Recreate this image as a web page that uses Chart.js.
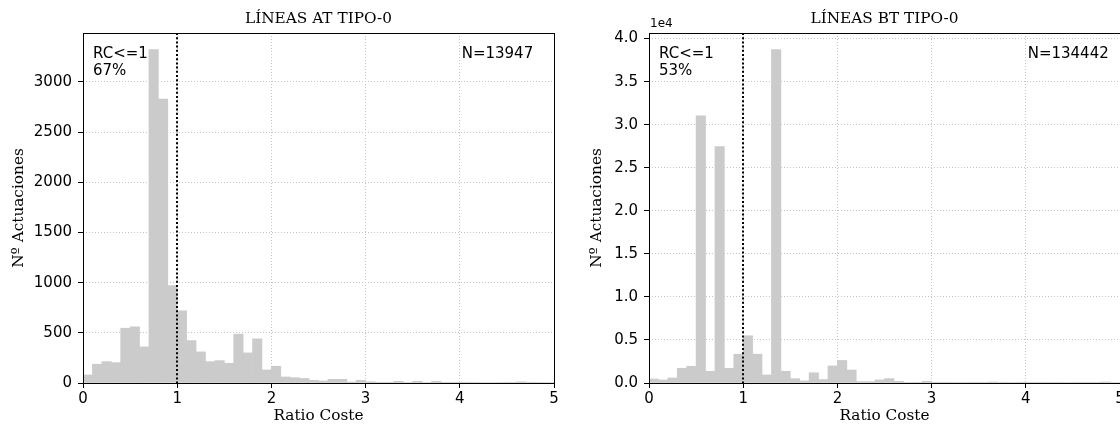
<!DOCTYPE html>
<html lang="es">
<head>
  <meta charset="UTF-8">
  <title>Ratio Coste - Líneas tipo 0</title>
  <script src="https://cdn.jsdelivr.net/npm/chart.js"></script>
  <style>
    body {
      margin: 0;
      width: 1120px;
      height: 425px;
      overflow: hidden;
      background: #ffffff;
      position: relative;
    }
    .panel { position: absolute; top: 0; }
    #left { left: 0; }
    #right { left: 566px; }
  </style>
</head>
<body>
  <div class="panel" id="left"><canvas id="chartAT" width="561" height="425"></canvas></div>
  <div class="panel" id="right"><canvas id="chartBT" width="561" height="425"></canvas></div>

  <script>
    // Bin centres: histogram bins of width 0.1 from 0 to 5
    const binCenters = [0.05, 0.15, 0.25, 0.35, 0.45, 0.55, 0.65, 0.75, 0.85, 0.95,
                        1.05, 1.15, 1.25, 1.35, 1.45, 1.55, 1.65, 1.75, 1.85, 1.95,
                        2.05, 2.15, 2.25, 2.35, 2.45, 2.55, 2.65, 2.75, 2.85, 2.95,
                        3.05, 3.15, 3.25, 3.35, 3.45, 3.55, 3.65, 3.75, 3.85, 3.95,
                        4.05, 4.15, 4.25, 4.35, 4.45, 4.55, 4.65, 4.75, 4.85, 4.95];

    // Líneas AT tipo-0 (counts per bin)
    const atCounts = [80, 187, 213, 203, 546, 560, 360, 3322, 2830, 970,
                      720, 423, 310, 213, 223, 197, 487, 300, 440, 130,
                      167, 60, 53, 45, 27, 20, 37, 37, 10, 27,
                      13, 7, 3, 17, 5, 17, 5, 17, 3, 3,
                      7, 7, 5, 5, 7, 3, 12, 3, 3, 5];

    // Líneas BT tipo-0 (counts per bin)
    const btCounts = [467, 350, 583, 1711, 1945, 31042, 1361, 27463, 1711, 3345,
                      5485, 3345, 934, 38714, 1361, 506, 240, 1190, 400, 1985,
                      2620, 1508, 160, 160, 357, 516, 200, 80, 80, 200,
                      20, 20, 20, 20, 20, 20, 120, 20, 20, 20,
                      20, 20, 20, 20, 20, 20, 20, 20, 120, 60];

    // axis ticks
    const xTicks = [0, 1, 2, 3, 4, 5];
    const atYTicks = [0, 500, 1000, 1500, 2000, 2500, 3000];
    const btYTicks = [0, 5000, 10000, 15000, 20000, 25000, 30000, 35000, 40000];

    const atLabels = ['RC<=1', '67%', 'N=13947'];
    const btLabels = ['RC<=1', '53%', 'N=134442'];
    const rcLimit = 1;

    Chart.defaults.font.family = '"DejaVu Sans", sans-serif';
    Chart.defaults.font.size = 15;
    Chart.defaults.color = '#000000';

    // dotted RC line, frame and text notes
    const extrasPlugin = {
      id: 'extras',
      afterDatasetsDraw(chart, args, opts) {
        const { ctx, chartArea: a, scales: { x } } = chart;
        ctx.save();
        const px = Math.round(x.getPixelForValue(opts.limit));
        ctx.strokeStyle = '#000000';
        ctx.lineWidth = 2;
        ctx.setLineDash([2, 2.2]);
        ctx.beginPath();
        ctx.moveTo(px, a.top);
        ctx.lineTo(px, a.bottom);
        ctx.stroke();
        ctx.setLineDash([]);

        ctx.lineWidth = 1;
        const l = Math.round(a.left) + 0.5, r = Math.round(a.right) + 0.5;
        const t = Math.round(a.top) + 0.5, b = Math.round(a.bottom) + 0.5;
        ctx.strokeRect(l, t, r - l, b - t);

        ctx.fillStyle = '#000000';
        ctx.font = '15px "DejaVu Sans"';
        ctx.textBaseline = 'middle';
        ctx.textAlign = 'left';
        ctx.fillText(opts.lines[0], a.left + 10, a.top + 21);
        ctx.fillText(opts.lines[1], a.left + 10, a.top + 38);
        ctx.fillText(opts.lines[2], x.getPixelForValue(opts.nAt), a.top + 21);
        if (opts.offsetText) {
          ctx.font = '12px "DejaVu Sans"';
          ctx.fillText(opts.offsetText, a.left + 1, a.top - 9);
        }
        ctx.restore();
      }
    };

    function makeConfig(counts, title, yMax, yTicks, yFormat, notes, yTitlePad) {
      return {
        type: 'bar',
        data: {
          datasets: [{
            data: binCenters.map((c, i) => ({ x: c, y: counts[i] })),
            backgroundColor: '#cbcbcb',
            borderWidth: 0,
            barPercentage: 1,
            categoryPercentage: 1
          }]
        },
        options: {
          responsive: false,
          animation: false,
          layout: { padding: { left: 0, right: 7, top: 0, bottom: 0 } },
          plugins: {
            legend: { display: false },
            tooltip: { enabled: false },
            title: {
              display: true,
              text: title,
              fullSize: false,
              color: '#000000',
              font: { family: '"DejaVu Serif", serif', size: 15.3, weight: 'normal' },
              padding: { top: 10, bottom: 4.64 }
            },
            extras: notes
          },
          scales: {
            x: {
              type: 'linear',
              min: 0,
              max: 5,
              offset: false,
              ticks: { padding: 2, color: '#000000' },
              afterBuildTicks(s) { s.ticks = xTicks.map(v => ({ value: v })); },
              grid: { offset: false, color: '#c4c4c4', lineWidth: 1, tickColor: '#000000', tickLength: 5, tickWidth: 1 },
              border: { display: false, dash: [1, 2] },
              title: {
                display: true,
                text: 'Ratio Coste',
                color: '#000000',
                font: { family: '"DejaVu Serif", serif', size: 15.3 },
                padding: { top: 0, bottom: 0 }
              },
              afterFit(s) { s.height = 42; }
            },
            y: {
              min: 0,
              max: yMax,
              ticks: { padding: 6, color: '#000000', callback: yFormat },
              afterBuildTicks(s) { s.ticks = yTicks.map(v => ({ value: v })); },
              grid: { color: '#c4c4c4', lineWidth: 1, tickColor: '#000000', tickLength: 5, tickWidth: 1 },
              border: { display: false, dash: [1, 2] },
              title: {
                display: true,
                text: 'Nº Actuaciones',
                color: '#000000',
                font: { family: '"DejaVu Serif", serif', size: 15.3 },
                padding: { top: yTitlePad, bottom: 0 }
              },
              afterFit(s) { s.width = 83; }
            }
          }
        },
        plugins: [extrasPlugin]
      };
    }

    new Chart(document.getElementById('chartAT').getContext('2d'),
      makeConfig(atCounts, 'LÍNEAS AT TIPO-0', 3488, atYTicks,
        v => v,
        { limit: rcLimit, lines: atLabels, nAt: 4.02, offsetText: null }, 10));

    new Chart(document.getElementById('chartBT').getContext('2d'),
      makeConfig(btCounts, 'LÍNEAS BT TIPO-0', 40650, btYTicks,
        v => (v / 10000).toFixed(1),
        { limit: rcLimit, lines: btLabels, nAt: 4.02, offsetText: '1e4' }, 22));
  </script>
</body>
</html>
